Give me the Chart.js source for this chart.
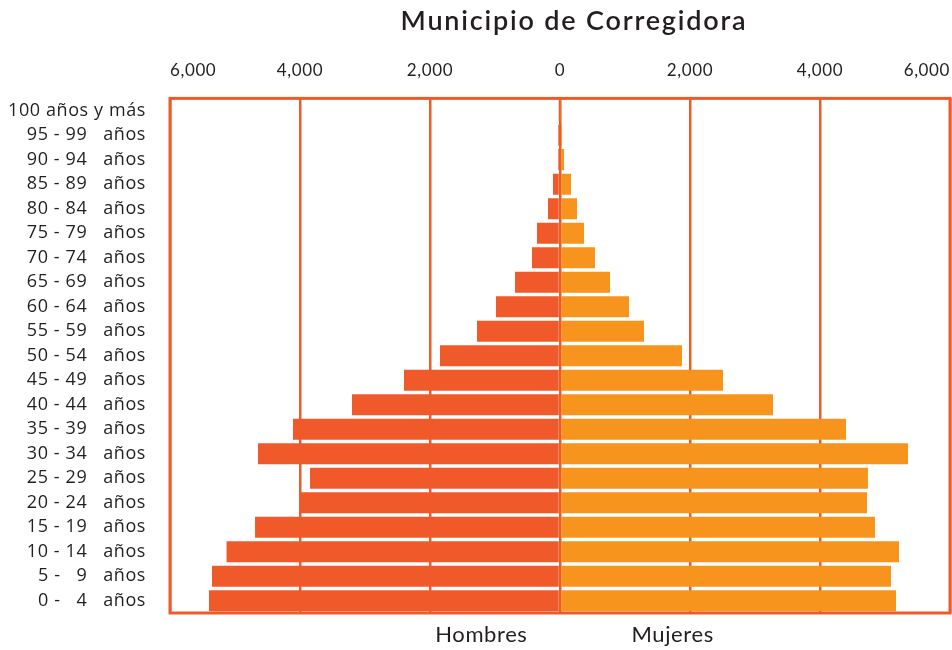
<!DOCTYPE html>
<html>
<head>
<meta charset="utf-8">
<script src="https://cdn.jsdelivr.net/npm/chart.js@4.4.1/dist/chart.umd.min.js"></script>
<style>
  html, body { margin: 0; padding: 0; background: #fff; }
  #wrap { width: 952px; height: 650px; position: relative; }
</style>
</head>
<body>
<div id="wrap"><canvas id="chart"></canvas></div>
<script>
// grupos de edad, de arriba hacia abajo
const grupos = [
  '100 años y más', '95 - 99   años', '90 - 94   años', '85 - 89   años', '80 - 84   años',
  '75 - 79   años', '70 - 74   años', '65 - 69   años', '60 - 64   años', '55 - 59   años',
  '50 - 54   años', '45 - 49   años', '40 - 44   años', '35 - 39   años', '30 - 34   años',
  '25 - 29   años', '20 - 24   años', '15 - 19   años', '10 - 14   años', '5 -   9   años',
  '0 -   4   años'
];

const hombres = [5, 30, 30, 108, 185, 354, 431, 692, 985, 1277, 1846, 2400, 3200, 4108, 4646,
  3846, 4015, 4692, 5130, 5354, 5400];
const mujeres = [10, 31, 62, 169, 262, 369, 538, 769, 1062, 1292, 1877, 2508, 3277, 4400, 5354,
  4738, 4723, 4846, 5215, 5092, 5169];

const titulo = 'Municipio de Corregidora';
const ticksX = [-6000, -4000, -2000, 0, 2000, 4000, 6000];

const rojo = '#f05a2a';
const naranja = '#f7941d';
const texto = '#231f20';
const fuente = 'Lato, "Open Sans", sans-serif';

// espaciado de letras para los textos de los ejes
const espaciado = {
  id: 'espaciado',
  beforeDraw(chart) { chart.ctx.letterSpacing = '0.6px'; },
  afterDraw(chart) { chart.ctx.letterSpacing = '0px'; }
};

// titulo y etiquetas Hombres / Mujeres
const textos = {
  id: 'textos',
  afterDraw(chart) {
    const ctx = chart.ctx;
    const a = chart.chartArea;
    const x = chart.scales.x;
    ctx.save();
    ctx.fillStyle = texto;
    ctx.textBaseline = 'middle';
    ctx.font = '600 27px ' + fuente;
    ctx.textAlign = 'center';
    ctx.letterSpacing = '1.8px';
    ctx.fillText(titulo, (a.left + a.right) / 2 + 14, 21);
    ctx.letterSpacing = '0.6px';
    ctx.font = '22px ' + fuente;
    ctx.textAlign = 'right';
    ctx.fillText('Hombres', x.getPixelForValue(-500), 635);
    ctx.textAlign = 'left';
    ctx.fillText('Mujeres', x.getPixelForValue(1100), 635);
    // marco del area
    ctx.strokeStyle = rojo;
    ctx.lineWidth = 3;
    ctx.strokeRect(a.left, a.top, a.right - a.left, a.bottom - a.top);
    ctx.restore();
  }
};

new Chart(document.getElementById('chart'), {
  type: 'bar',
  data: {
    labels: grupos,
    datasets: [
      { label: 'Hombres', data: hombres.map(v => -v), backgroundColor: rojo },
      { label: 'Mujeres', data: mujeres, backgroundColor: naranja }
    ]
  },
  options: {
    indexAxis: 'y',
    responsive: true,
    maintainAspectRatio: false,
    animation: false,
    layout: { padding: { top: 42, bottom: 37, left: 0, right: 2 } },
    datasets: { bar: { barPercentage: 0.86, categoryPercentage: 1 } },
    plugins: {
      legend: { display: false },
      tooltip: { enabled: false }
    },
    scales: {
      x: {
        position: 'top',
        stacked: true,
        min: -6000,
        max: 6000,
        afterBuildTicks: s => { s.ticks = ticksX.map(v => ({ value: v })); },
        afterFit: s => { s.paddingLeft = 0; s.paddingRight = 0; },
        grid: { color: rojo, lineWidth: 2.5, drawTicks: false },
        border: { display: false },
        ticks: {
          align: 'inner',
          padding: 18,
          color: texto,
          font: { family: fuente, size: 17 },
          callback: v => Math.abs(v).toLocaleString('en-US')
        }
      },
      y: {
        stacked: true,
        grid: { display: false },
        border: { display: false },
        afterFit: s => { s.width = 170; },
        ticks: {
          autoSkip: false,
          padding: 16,
          color: texto,
          font: { family: '"Open Sans", sans-serif', size: 18 }
        }
      }
    }
  },
  plugins: [espaciado, textos]
});
</script>
</body>
</html>
